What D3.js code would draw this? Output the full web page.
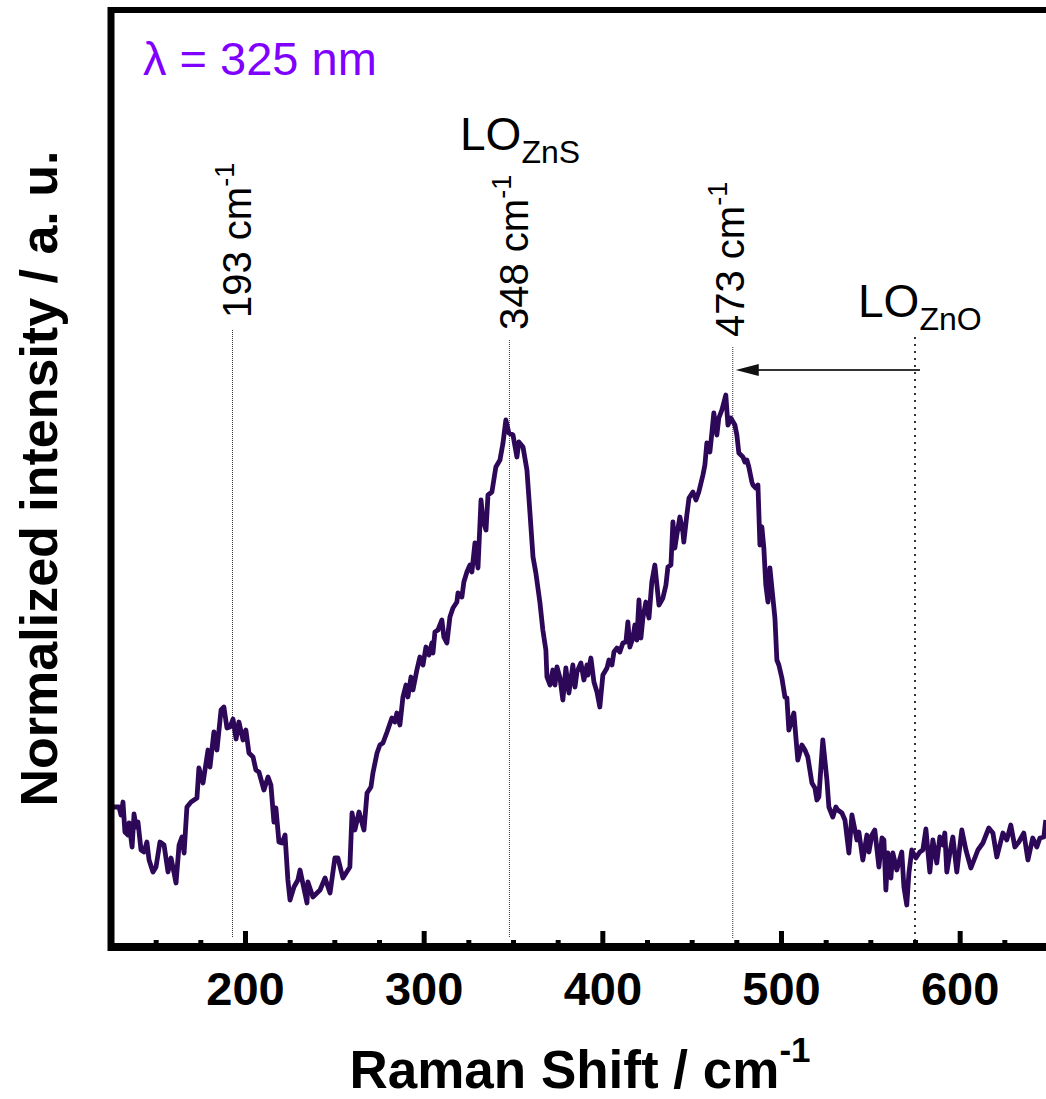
<!DOCTYPE html>
<html>
<head>
<meta charset="utf-8">
<style>
  body {
    margin: 0;
    background: #fff;
  }

  svg {
    display: block;
    font-family: "Liberation Sans", Arial, sans-serif;
  }

  .axis text {
    font-size: 47px;
    font-weight: bold;
    fill: #000;
  }

  .axis line {
    stroke: #000;
    stroke-width: 5px;
  }

  .spectrum {
    fill: none;
    stroke: #2e0858;
    stroke-width: 4.8px;
    stroke-linejoin: round;
  }

  .marker {
    stroke: #333;
    stroke-width: 1px;
    stroke-dasharray: 1, 1;
  }
</style>
</head>
<body>
  <div id="chart"></div>
<script src="https://cdnjs.cloudflare.com/ajax/libs/d3/7.8.5/d3.min.js"></script>
<script>

  // spectrum (cm-1, normalized a.u.)
  var ramanShift = [
    125.0, 127.8, 129.5, 130.6, 131.7, 132.8, 134.5, 135.1, 136.8, 137.9, 139.0, 140.1, 141.8, 143.5, 145.1,
    146.3, 148.5, 150.2, 152.4, 154.7, 156.9, 158.6, 160.3, 161.4, 163.1, 164.7, 165.9, 167.5, 169.8, 173.1,
    174.2, 176.5, 179.3, 180.4, 182.6, 184.3, 186.6, 188.2, 189.9, 191.6, 193.3, 195.0, 196.6, 198.9, 200.5,
    202.2, 204.5, 206.1, 207.8, 210.6, 212.9, 214.5, 216.2, 217.3, 219.0, 220.7, 222.4, 224.0, 225.2, 227.4,
    229.6,
    230.8, 234.7, 235.2, 238.0, 242.0, 244.8, 247.6, 250.3, 252.0, 254.8, 258.7, 259.9, 261.5, 263.8, 266.6,
    268.3, 270.5, 271.6, 273.9, 275.5, 277.2, 279.5, 282.2, 283.9, 285.0, 286.7, 288.4, 290.1, 291.2, 292.9,
    294.0, 296.2, 297.9, 299.6, 301.3, 303.0, 304.6, 305.2, 306.3, 308.0, 310.2, 311.3, 313.0, 314.7, 316.4,
    318.6, 319.2, 321.4, 322.5, 324.2, 325.9, 327.0, 328.7, 330.4, 332.1, 333.2, 334.9, 336.0, 338.2, 340.4,
    342.7, 344.4, 346.0, 347.7, 350.0, 352.2, 353.3, 355.6, 357.8, 359.5, 361.2, 362.8, 365.1, 366.7, 368.4,
    369.0, 370.7, 372.3,
    373.5, 374.6, 376.3, 377.9, 379.6, 381.3, 383.5, 384.7, 385.8, 388.0, 389.7, 391.4, 391.9, 393.6, 395.3,
    397.0, 398.6, 400.3, 402.6, 403.7, 405.4, 406.5, 408.2, 409.8, 411.5, 413.2, 414.3, 415.4, 417.1, 418.2,
    419.3, 420.5, 421.6, 422.7, 424.4, 426.1, 427.7, 429.4, 431.7, 433.9, 435.6, 436.7, 438.4, 439.5, 440.6,
    441.7, 443.4, 445.1, 445.6, 447.3, 448.5, 450.7, 452.4, 454.0, 456.3, 457.4, 458.5, 460.2, 461.3, 462.4,
    464.1, 465.2, 466.9, 469.1, 470.3, 471.9, 474.2, 475.3, 476.4, 478.7, 479.8, 480.9, 482.0, 483.7, 484.3,
    485.9, 487.1, 488.2, 489.3, 490.4, 491.5, 492.7, 493.8, 494.9, 496.6, 497.7, 498.8, 500.5, 502.2, 503.3,
    504.4, 506.1, 507.2, 509.4, 511.7, 513.4, 515.0, 517.3, 519.0, 520.1, 521.2, 523.4, 525.7, 526.8, 529.0,
    530.7, 531.8, 534.1, 535.8,
    538.0, 539.7, 542.5, 543.6, 545.8, 548.1, 549.2, 550.9, 552.5, 554.8, 556.5, 557.6, 558.7, 559.8, 561.5,
    562.6, 564.8, 567.6, 568.8, 570.4, 571.6, 573.2, 575.5, 577.7, 579.4, 581.1, 583.3, 585.0, 587.2, 588.9,
    590.6, 591.7, 592.8, 594.5, 596.2, 598.4, 601.2, 603.5, 606.3, 610.2, 613.0, 616.3, 618.6, 620.8, 624.2,
    626.4, 628.6, 630.9, 633.1, 635.9, 638.2, 640.9, 643.2, 644.9, 647.1, 648.2
  ];

  var intensity = [
    0.280, 0.280, 0.280, 0.264, 0.290, 0.230, 0.224, 0.248, 0.200, 0.266, 0.240, 0.250, 0.194, 0.190, 0.210,
    0.174, 0.150, 0.160, 0.210, 0.204, 0.150, 0.178, 0.148, 0.128, 0.204, 0.220, 0.188, 0.280, 0.290, 0.298,
    0.358, 0.328, 0.394, 0.360, 0.430, 0.394, 0.474, 0.480, 0.438, 0.440, 0.456, 0.416, 0.450, 0.414, 0.434,
    0.388, 0.380, 0.354, 0.350, 0.314, 0.340, 0.324, 0.250, 0.278, 0.210, 0.208, 0.224, 0.134, 0.094, 0.120,
    0.134,
    0.154, 0.088, 0.130, 0.100, 0.114, 0.138, 0.108, 0.178, 0.178, 0.138, 0.160, 0.268, 0.234, 0.270, 0.234,
    0.308, 0.320, 0.348, 0.388, 0.404, 0.408, 0.430, 0.458, 0.450, 0.468, 0.444, 0.500, 0.524, 0.500, 0.540,
    0.514, 0.554, 0.580, 0.564, 0.600, 0.584, 0.608, 0.588, 0.630, 0.634, 0.654, 0.620, 0.608, 0.660, 0.678,
    0.690, 0.708, 0.700, 0.730, 0.750, 0.764, 0.750, 0.808, 0.758, 0.894, 0.854, 0.834, 0.904, 0.910, 0.960,
    0.974, 1.008, 1.054, 1.028, 1.024, 0.980, 1.010, 1.000, 0.954, 0.868, 0.780, 0.748, 0.688, 0.634, 0.594,
    0.540, 0.524, 0.554,
    0.524, 0.560, 0.538, 0.494, 0.558, 0.508, 0.564, 0.520, 0.550, 0.568, 0.534, 0.564, 0.544, 0.578, 0.530,
    0.510, 0.480, 0.544, 0.558, 0.574, 0.564, 0.590, 0.598, 0.590, 0.608, 0.610, 0.650, 0.600, 0.618, 0.644,
    0.614, 0.694, 0.618, 0.658, 0.690, 0.658, 0.730, 0.764, 0.684, 0.698, 0.724, 0.760, 0.764, 0.850, 0.798,
    0.824, 0.860, 0.830, 0.810, 0.864, 0.898, 0.910, 0.894, 0.910, 0.944, 0.964, 1.008, 0.990, 1.028, 1.068,
    1.024, 1.058, 1.074, 1.104, 1.044, 1.058, 1.044, 1.024, 0.988, 0.980, 0.970, 0.974, 0.960, 0.930, 0.924,
    0.918, 0.924, 0.804, 0.840, 0.798, 0.724, 0.690, 0.758, 0.718, 0.658, 0.574, 0.564, 0.538, 0.500, 0.498,
    0.434, 0.454, 0.468, 0.374, 0.404, 0.394, 0.380, 0.328, 0.318, 0.294, 0.300, 0.414, 0.334, 0.280, 0.260,
    0.280, 0.274, 0.268, 0.254,
    0.188, 0.264, 0.214, 0.230, 0.174, 0.224, 0.190, 0.224, 0.234, 0.160, 0.218, 0.214, 0.114, 0.188, 0.138,
    0.188, 0.154, 0.190, 0.120, 0.084, 0.148, 0.194, 0.178, 0.190, 0.194, 0.236, 0.150, 0.214, 0.168, 0.220,
    0.204, 0.228, 0.150, 0.188, 0.220, 0.150, 0.234, 0.194, 0.158, 0.194, 0.208, 0.238, 0.228, 0.180, 0.228,
    0.214, 0.244, 0.200, 0.210, 0.228, 0.174, 0.218, 0.200, 0.218, 0.220, 0.254
  ];

  var majorTicks = [200, 300, 400, 500, 600];
  var minorTicks = [150, 175, 225, 250, 275, 325, 350, 375, 425, 450, 475, 525, 550, 575, 625];

  // assigned bands
  var peaks = [193, 348, 473];
  var loZnO = 575;

  var width = 1046,
    height = 1099;

  var plotLeft = 111,
    plotRight = 1049,
    plotTop = 10,
    plotBottom = 947;

  var x = d3.scaleLinear()
    .domain([125, 650])
    .range([plotLeft, plotRight]);

  var y = d3.scaleLinear()
    .domain([0, 1])
    .range([plotBottom, 447]);

  var svg = d3.select("#chart").append("svg")
    .attr("width", width)
    .attr("height", height);

  svg.append("clipPath")
    .attr("id", "clip")
    .append("rect")
    .attr("x", plotLeft)
    .attr("y", plotTop)
    .attr("width", plotRight - plotLeft)
    .attr("height", plotBottom - plotTop);

  //dotted guide lines
  var guideTop = [330, 340, 347];
  var labelShift = [19, 19, 11];
  var labelStart = [318, 330, 337];

  svg.selectAll(".marker")
    .data(peaks)
    .enter().append("line")
    .attr("class", "marker")
    .attr("x1", function (d) { return x(d); })
    .attr("x2", function (d) { return x(d); })
    .attr("y1", function (d, i) { return guideTop[i]; })
    .attr("y2", 938);

  svg.append("line")
    .attr("x1", x(loZnO))
    .attr("x2", x(loZnO))
    .attr("y1", 337)
    .attr("y2", 940)
    .attr("stroke", "#333")
    .attr("stroke-width", 2)
    .attr("stroke-dasharray", "2,5");

  // spectrum
  var line = d3.line()
    .x(function (d) { return x(d[0]); })
    .y(function (d) { return y(d[1]); });

  svg.append("path")
    .datum(d3.zip(ramanShift, intensity))
    .attr("class", "spectrum")
    .attr("clip-path", "url(#clip)")
    .attr("d", line);

  // axis ticks (inward)
  svg.append("g")
    .attr("class", "axis")
    .attr("transform", "translate(0," + plotBottom + ")")
    .call(d3.axisBottom(x).tickValues(majorTicks).tickSize(-16).tickPadding(25).tickFormat(d3.format("d")))
    .call(function (g) { g.select(".domain").remove(); });

  svg.append("g")
    .attr("class", "axis")
    .attr("transform", "translate(0," + plotBottom + ")")
    .call(d3.axisBottom(x).tickValues(minorTicks).tickSize(-7).tickFormat(""))
    .call(function (g) { g.select(".domain").remove(); });

  // frame
  svg.append("line")
    .attr("x1", plotLeft - 3).attr("x2", width)
    .attr("y1", plotTop).attr("y2", plotTop)
    .attr("stroke", "#000").attr("stroke-width", 6);

  svg.append("line")
    .attr("x1", plotLeft).attr("x2", plotLeft)
    .attr("y1", plotTop - 3).attr("y2", plotBottom + 4)
    .attr("stroke", "#000").attr("stroke-width", 7);

  svg.append("line")
    .attr("x1", plotLeft - 3).attr("x2", width)
    .attr("y1", plotBottom).attr("y2", plotBottom)
    .attr("stroke", "#000").attr("stroke-width", 8);

  // peak labels
  var peakLabels = svg.selectAll(".peak-label")
    .data(peaks)
    .enter().append("text")
    .attr("class", "peak-label")
    .attr("transform", function (d, i) {
      return "translate(" + (x(d) + labelShift[i]) + "," + labelStart[i] + ") rotate(-90)";
    })
    .attr("font-size", 40)
    .attr("fill", "#000");

  peakLabels.append("tspan").text(function (d) { return d + " cm"; });
  peakLabels.append("tspan").attr("font-size", 27).attr("dy", -17).text("-1");

  // LO labels
  var loZnS = svg.append("text")
    .attr("x", 460)
    .attr("y", 150)
    .attr("font-size", 46)
    .attr("fill", "#000");
  loZnS.append("tspan").text("LO");
  loZnS.append("tspan").attr("font-size", 32).attr("dy", 13).text("ZnS");

  var loZnOLabel = svg.append("text")
    .attr("x", 858)
    .attr("y", 317)
    .attr("font-size", 46)
    .attr("fill", "#000");
  loZnOLabel.append("tspan").text("LO");
  loZnOLabel.append("tspan").attr("font-size", 32).attr("dy", 13).text("ZnO");

  // shift arrow ZnO -> 473
  var arrowY = 370;
  svg.append("line")
    .attr("x1", x(loZnO) + 5)
    .attr("x2", x(peaks[2]) + 20)
    .attr("y1", arrowY)
    .attr("y2", arrowY)
    .attr("stroke", "#333")
    .attr("stroke-width", 2);

  svg.append("path")
    .attr("d", "M" + (x(peaks[2]) + 3) + "," + arrowY +
      "L" + (x(peaks[2]) + 26) + "," + (arrowY - 6) +
      "L" + (x(peaks[2]) + 26) + "," + (arrowY + 6) + "Z")
    .attr("fill", "#111");

  // excitation wavelength
  svg.append("text")
    .attr("x", 143)
    .attr("y", 75)
    .attr("font-size", 47)
    .attr("fill", "#8000ff")
    .text("λ = 325 nm");

  // axis titles
  var xTitle = svg.append("text")
    .attr("x", (plotLeft + plotRight) / 2)
    .attr("y", 1088)
    .attr("text-anchor", "middle")
    .attr("font-size", 53)
    .attr("font-weight", "bold");
  xTitle.append("tspan").text("Raman Shift / cm");
  xTitle.append("tspan").attr("font-size", 35).attr("dy", -26).text("-1");

  svg.append("text")
    .attr("transform", "translate(57," + (plotTop + plotBottom) / 2 + ") rotate(-90)")
    .attr("text-anchor", "middle")
    .attr("font-size", 52)
    .attr("font-weight", "bold")
    .text("Normalized intensity / a. u.");
</script>
</body>
</html>
